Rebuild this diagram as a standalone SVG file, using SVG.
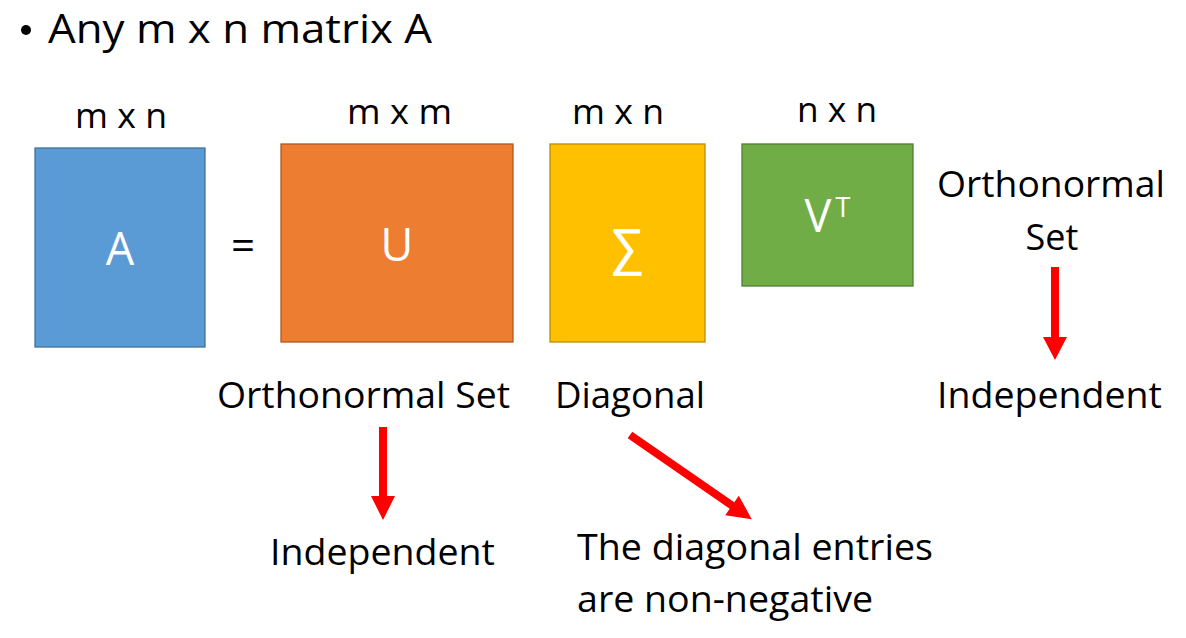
<svg xmlns="http://www.w3.org/2000/svg" width="1186" height="638" viewBox="0 0 1186 638">
<style>
.t{font-family:"Open Sans","Noto Sans",sans-serif;fill:#000;}
.w{font-family:"Open Sans","Noto Sans",sans-serif;fill:#fff;text-anchor:middle;}
.arrow{fill:#ff0000;}
</style>
<rect width="1186" height="638" fill="#fff"/>
<g id="title">
<circle cx="26" cy="30" r="5" fill="#000"/>
<text class="t" x="48" y="43" font-size="40" textLength="384" lengthAdjust="spacingAndGlyphs">Any m x n matrix A</text>
</g>
<g id="nodeA">
<text class="t" x="75" y="128" font-size="35" textLength="92" lengthAdjust="spacingAndGlyphs">m x n</text>
<rect x="35" y="148" width="170" height="199" fill="#5B9BD5" stroke="#41719C" stroke-width="1.3"/>
<text class="w" x="120" y="265" font-size="45">A</text>
</g>
<g id="equals">
<text class="t" x="243" y="260" font-size="42" text-anchor="middle">=</text>
</g>
<g id="nodeU">
<text class="t" x="347" y="124" font-size="35" textLength="105" lengthAdjust="spacingAndGlyphs">m x m</text>
<rect x="281" y="144" width="232" height="198" fill="#ED7D31" stroke="#AE5A21" stroke-width="1.3"/>
<text class="w" x="397" y="261" font-size="45">U</text>
</g>
<g id="nodeS">
<text class="t" x="572" y="124" font-size="35" textLength="92" lengthAdjust="spacingAndGlyphs">m x n</text>
<rect x="550" y="144" width="155" height="198" fill="#FFC000" stroke="#BC8C00" stroke-width="1.3"/>
<text class="w" x="627" y="264" font-size="48" stroke="#fff" stroke-width="0.8">∑</text>
</g>
<g id="nodeV">
<text class="t" x="797" y="122" font-size="35" textLength="80" lengthAdjust="spacingAndGlyphs">n x n</text>
<rect x="742" y="144" width="171" height="142" fill="#70AD47" stroke="#507E32" stroke-width="1.3"/>
<text class="w" x="818" y="232" font-size="45">V</text>
<text class="w" x="843" y="217" font-size="27">T</text>
</g>
<g id="labels">
<text class="t" x="217" y="408" font-size="36" textLength="293" lengthAdjust="spacingAndGlyphs">Orthonormal Set</text>
<text class="t" x="555" y="408" font-size="36" textLength="150" lengthAdjust="spacingAndGlyphs">Diagonal</text>
<text class="t" x="270" y="565" font-size="36" textLength="225" lengthAdjust="spacingAndGlyphs">Independent</text>
<text class="t" x="577" y="560" font-size="36" textLength="356" lengthAdjust="spacingAndGlyphs">The diagonal entries</text>
<text class="t" x="577" y="612" font-size="36" textLength="296" lengthAdjust="spacingAndGlyphs">are non-negative</text>
<text class="t" x="937" y="197" font-size="36" textLength="228" lengthAdjust="spacingAndGlyphs">Orthonormal</text>
<text class="t" x="1052" y="250" font-size="36" text-anchor="middle">Set</text>
<text class="t" x="937" y="408" font-size="36" textLength="225" lengthAdjust="spacingAndGlyphs">Independent</text>
</g>
<g id="connectors">
<polygon class="arrow" points="379,427 387,427 387,496 395,496 383,520 371,496 379,496"/>
<polygon class="arrow" points="1051,267 1059,267 1059,337 1067,337 1055,360 1043,337 1051,337"/>
<g transform="translate(630,435) rotate(34.65)">
<polygon class="arrow" points="0,-4 124,-4 124,-12 148,0 124,12 124,4 0,4"/>
</g>
</g>
</svg>
